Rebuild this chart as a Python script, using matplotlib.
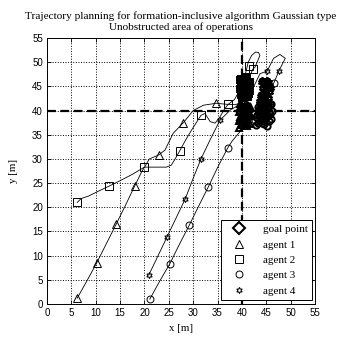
import matplotlib
matplotlib.use('Agg')
import matplotlib.pyplot as plt
from matplotlib.lines import Line2D

# goal point
goal = (40, 40)

# agent 1 (triangles)
a1_x = [6.2, 8.2, 10.2, 12.2, 14.2, 16.1, 18.0, 19.4, 20.2, 21.0, 22.9, 24.2, 25.9, 28.0, 30.0, 32.1, 34.7, 36.8, 38.6, 39.5]
a1_y = [1.2, 4.8, 8.5, 12.5, 16.5, 20.4, 24.4, 27.3, 28.6, 30.0, 30.8, 31.8, 35.3, 37.5, 40.0, 41.1, 41.5, 41.3, 41.2, 41.5]
a1_mx = [6.2, 10.2, 14.2, 18.0, 22.9, 28.0, 34.7]
a1_my = [1.2, 8.5, 16.5, 24.4, 30.8, 37.5, 41.5]

# agent 2 (squares)
a2_x = [6.2, 7.0, 8.5, 10.5, 12.8, 15.0, 17.5, 20.0, 22.0, 24.5, 25.5, 26.3, 27.2, 28.5, 30.0, 31.6, 32.4, 33.5, 34.5, 35.5,
        36.5, 37.2, 38.5, 39.3, 40.0, 40.7, 41.3, 42.0, 42.8, 43.4, 43.7, 42.7, 42.2, 41.6, 41.0]
a2_y = [21.0, 21.8, 22.3, 23.3, 24.4, 25.5, 26.8, 28.3, 28.3, 28.3, 28.7, 30.0, 31.6, 34.0, 36.5, 39.0, 39.4, 37.7, 37.4, 38.7,
        40.4, 41.3, 42.3, 43.8, 45.2, 47.5, 50.0, 51.4, 52.1, 52.0, 51.4, 49.0, 48.5, 47.0, 46.0]
a2_mx = [6.2, 12.8, 20.0, 27.2, 31.6, 37.2, 41.5, 42.2, 40.8]
a2_my = [21.0, 24.4, 28.3, 31.6, 39.0, 41.3, 49.2, 48.5, 46.3]

# agent 3 (circles)
a3_x = [21.1, 23.0, 25.2, 27.0, 29.2, 31.0, 33.1, 35.0, 37.1, 38.0, 39.5, 40.0, 41.0, 42.0, 42.8]
a3_y = [1.0, 4.5, 8.3, 12.0, 16.3, 20.0, 24.2, 28.2, 32.3, 33.7, 35.5, 37.5, 37.8, 38.0, 38.3]
a3_mx = [21.1, 25.2, 29.2, 33.1, 37.1, 46.5, 42.6]
a3_my = [1.0, 8.3, 16.3, 24.2, 32.3, 45.6, 38.0]

# agent 4 (hexagrams)
a4_x = [20.9, 22.8, 24.6, 26.5, 28.4, 30.0, 31.6, 33.5, 35.5, 37.6, 39.3, 40.7, 42.4, 43.7, 45.2, 46.5, 47.8, 48.9, 47.6, 46.5, 46.0]
a4_y = [6.0, 10.0, 13.8, 17.8, 21.8, 26.0, 30.0, 34.0, 38.0, 40.1, 41.1, 43.5, 44.9, 47.6, 48.2, 50.8, 51.6, 50.8, 48.2, 45.6, 44.0]
a4_mx = [20.9, 24.6, 28.4, 31.6, 35.5, 45.2, 47.6]
a4_my = [6.0, 13.8, 21.8, 30.0, 38.0, 48.2, 48.2]

# oscillation clusters near the goal
cA_x = [40.0, 41.2, 39.8, 41.5, 40.2, 41.0, 39.7, 41.6, 40.5, 39.9, 41.3, 40.1, 41.7, 40.4, 39.6, 41.1, 40.8, 39.9, 41.4, 40.3,
        41.0, 39.8, 41.5, 40.6, 40.0, 41.2, 40.4, 41.6, 39.9, 40.9]
cA_y = [42.5, 42.8, 43.2, 43.5, 43.9, 44.1, 44.4, 44.6, 44.9, 45.2, 45.4, 45.7, 45.9, 46.2, 46.4, 46.7, 46.9, 46.5, 46.0, 45.5,
        45.0, 44.7, 44.2, 43.8, 43.4, 43.0, 42.7, 44.0, 45.8, 43.6]
cB_x = [39.5, 41.0, 39.8, 41.6, 40.2, 39.4, 41.3, 40.6, 39.7, 41.8, 40.0, 41.1, 39.5, 40.8, 41.5, 39.9, 40.4, 41.7, 39.6, 40.9,
        41.2, 39.8, 40.5, 41.4, 40.1, 39.7, 41.0, 40.6, 41.5, 40.2]
cB_y = [36.4, 36.7, 37.1, 37.3, 37.6, 37.9, 38.1, 38.4, 38.7, 38.9, 39.2, 39.5, 39.7, 40.0, 40.3, 40.5, 40.8, 41.0, 41.3, 41.5,
        41.2, 40.9, 40.2, 39.6, 38.8, 38.2, 37.7, 37.0, 39.1, 40.6]
cC_x = [43.5, 44.8, 43.8, 45.2, 44.0, 45.5, 44.3, 45.0, 43.9, 45.7, 44.6, 45.3, 44.2, 45.8, 44.9, 44.4, 45.6, 44.7, 45.1, 44.0,
        45.4, 43.7, 44.8, 45.9, 44.5, 43.6, 45.0, 44.3, 45.5, 44.1]
cC_y = [41.0, 41.3, 41.7, 42.0, 42.3, 42.6, 42.9, 43.2, 43.5, 43.8, 44.1, 44.4, 44.7, 45.0, 45.3, 45.6, 45.9, 46.2, 46.4, 46.0,
        45.1, 43.0, 42.5, 44.6, 43.9, 41.9, 44.9, 42.8, 41.6, 46.3]
cD_x = [42.8, 44.5, 43.2, 45.6, 43.8, 46.0, 44.2, 45.2, 43.0, 45.8, 44.8, 43.5, 46.1, 44.0, 45.4, 43.3, 44.6, 45.9, 43.7, 45.0,
        44.3, 42.9, 45.5, 44.1, 43.6, 45.7, 44.7, 43.9, 45.1, 44.4]
cD_y = [37.0, 37.2, 37.5, 37.8, 38.0, 38.3, 38.5, 38.8, 39.0, 39.3, 39.5, 39.8, 40.0, 40.3, 40.5, 40.8, 41.0, 41.3, 41.5, 41.2,
        40.6, 38.6, 39.7, 37.4, 40.1, 41.4, 38.2, 39.2, 36.9, 41.6]

ticks = [0, 5, 10, 15, 20, 25, 30, 35, 40, 45, 50, 55]
serif = 'Liberation Serif'
hexa = (6, 1, 0)

fig = plt.figure(figsize=(3.38, 3.38), dpi=100)
ax = fig.add_axes([0.139, 0.1006, 0.793, 0.787])

ax.axvline(goal[0], color='black', linestyle='--', linewidth=1.6, dashes=(4, 2), zorder=1)
ax.axhline(goal[1], color='black', linestyle='--', linewidth=1.6, dashes=(4, 2), zorder=1)

lw = 0.6
ax.plot(a1_x, a1_y, color='black', linewidth=lw)
ax.plot(a2_x, a2_y, color='black', linewidth=lw)
ax.plot(a3_x, a3_y, color='black', linewidth=lw)
ax.plot(a4_x, a4_y, color='black', linewidth=lw)

mk = dict(linestyle='none', color='black', markerfacecolor='none', markeredgewidth=0.7)
ax.plot(a1_mx, a1_my, marker='^', markersize=6, **mk)
ax.plot(a2_mx, a2_my, marker='s', markersize=5.5, **mk)
ax.plot(a3_mx, a3_my, marker='o', markersize=5, **mk)
ax.plot(a4_mx, a4_my, marker=hexa, markersize=4.5, **mk)

ax.plot(goal[0], goal[1], marker='D', markersize=6, color='black', markerfacecolor='white', markeredgewidth=1.5, linestyle='none')

clusters = [(cA_x, cA_y, 's'), (cB_x, cB_y, '^'), (cC_x, cC_y, hexa), (cD_x, cD_y, 'o')]
for cx, cy, m in clusters:
    ax.plot(cx, cy, color='black', linewidth=1.2, marker=m, markersize=4.5, markerfacecolor='none', markeredgewidth=1.4)

ax.set_xlim(0, 55)
ax.set_ylim(0, 55)
ax.set_xticks(ticks)
ax.set_yticks(ticks)
ax.grid(True, linestyle=':', color='black', linewidth=0.7)
ax.tick_params(direction='in', length=3, labelsize=7, width=0.6, top=True, right=True, pad=3)
for lab in ax.get_xticklabels() + ax.get_yticklabels():
    lab.set_family('Liberation Sans')
for s in ax.spines.values():
    s.set_linewidth(0.7)

ax.set_xlabel('x [m]', fontsize=7.8, family=serif, labelpad=4)
ax.set_ylabel('y [m]', fontsize=7.8, family=serif, labelpad=10)
ax.set_title('Trajectory planning for formation-inclusive algorithm Gaussian type\nUnobstructed area of operations',
             fontsize=8.1, family=serif, pad=6, linespacing=1.15)

handles = [
    Line2D([], [], linestyle='none', marker='D', markersize=6, color='black', markerfacecolor='white', markeredgewidth=1.5),
    Line2D([], [], linestyle='none', marker='^', markersize=6, color='black', markerfacecolor='none', markeredgewidth=0.7),
    Line2D([], [], linestyle='none', marker='s', markersize=5.5, color='black', markerfacecolor='none', markeredgewidth=0.7),
    Line2D([], [], linestyle='none', marker='o', markersize=5, color='black', markerfacecolor='none', markeredgewidth=0.7),
    Line2D([], [], linestyle='none', marker=hexa, markersize=4.5, color='black', markerfacecolor='none', markeredgewidth=0.7),
]
labels = ['goal point', 'agent 1', 'agent 2', 'agent 3', 'agent 4']
leg = ax.legend(handles, labels, loc='lower right', bbox_to_anchor=(0.99, 0.015), borderaxespad=0,
                prop={'family': serif, 'size': 8}, fancybox=False, framealpha=1, edgecolor='black',
                handlelength=2.5, labelspacing=0.5, borderpad=0.4, handletextpad=0.9)
leg.get_frame().set_linewidth(0.7)

fig.savefig('out.png', dpi=100)
